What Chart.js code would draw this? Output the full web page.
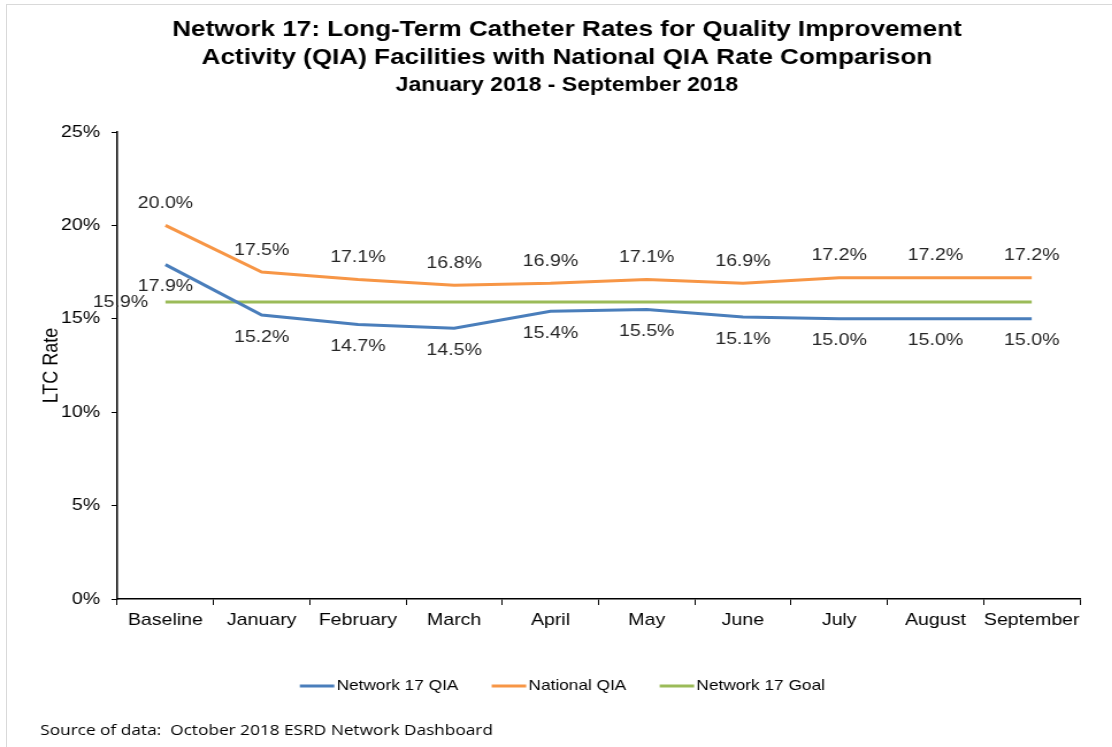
<!DOCTYPE html>
<html>
<head>
<meta charset="utf-8">
<script src="https://cdn.jsdelivr.net/npm/chart.js@4"></script>
<style>
    html, body { margin: 0; padding: 0; background: #fff; overflow: hidden; }
    #frame { position: absolute; left: 6px; top: 4px; width: 1120px; height: 760px; border: 1px solid #d9d9d9; box-sizing: border-box; }
    /* the reference text is wider than it is tall, so the canvas is stretched sideways */
    #wrap { position: absolute; left: 0; top: 0; width: 967px; height: 747px; transform: scaleX(1.15); transform-origin: 0 0; }
    canvas { position: absolute; left: 0; top: 0; }
</style>
</head>
<body>
<div id="frame"></div>
<div id="wrap">
    <canvas id="lineChart" width="967" height="747"></canvas>
</div>
<script>
const months = ["Baseline", "January", "February", "March", "April", "May", "June", "July", "August", "September"];
const network17Qia = [17.9, 15.2, 14.7, 14.5, 15.4, 15.5, 15.1, 15.0, 15.0, 15.0];
const nationalQia = [20.0, 17.5, 17.1, 16.8, 16.9, 17.1, 16.9, 17.2, 17.2, 17.2];
const network17Goal = [15.9, 15.9, 15.9, 15.9, 15.9, 15.9, 15.9, 15.9, 15.9, 15.9];
const yTicks = [0, 5, 10, 15, 20, 25];
const titleLines = [
    "Network 17: Long-Term Catheter Rates for Quality Improvement",
    "Activity (QIA) Facilities with National QIA Rate Comparison",
];
const subTitle = "January 2018 - September 2018";

const FONT = "'Liberation Sans', Arial, sans-serif";

// titles drawn by hand so they can sit centred on the page, not on the plot
const titlePlugin = {
    id: "pageTitle",
    afterDraw(chart) {
        const ctx = chart.ctx;
        ctx.save();
        ctx.fillStyle = "#000";
        ctx.textAlign = "center";
        ctx.textBaseline = "middle";
        ctx.font = "bold 22.7px " + FONT;
        ctx.fillText(titleLines[0], 493, 30);
        ctx.fillText(titleLines[1], 493, 58);
        ctx.font = "bold 20px " + FONT;
        ctx.fillText(subTitle, 493, 85);
        ctx.restore();
    },
};

// data labels: blue below, orange above, goal only at the first point (to the left)
const labelPlugin = {
    id: "pointLabels",
    afterDatasetsDraw(chart) {
        const ctx = chart.ctx;
        ctx.save();
        ctx.font = "17px " + FONT;
        ctx.fillStyle = "#262626";
        ctx.textBaseline = "middle";
        chart.data.datasets.forEach((ds, i) => {
            const meta = chart.getDatasetMeta(i);
            meta.data.forEach((pt, j) => {
                const txt = ds.data[j].toFixed(1) + "%";
                if (i === 0) {
                    ctx.textAlign = "center";
                    ctx.fillText(txt, pt.x, pt.y + 22);
                } else if (i === 1) {
                    ctx.textAlign = "center";
                    ctx.fillText(txt, pt.x, pt.y - 22);
                } else if (j === 0) {
                    ctx.textAlign = "right";
                    ctx.fillText(txt, pt.x - 15, pt.y);
                }
            });
        });
        ctx.restore();
    },
};

// legend like the office one: short line, text right against it
const legendPlugin = {
    id: "lineLegend",
    afterDraw(chart) {
        const ctx = chart.ctx;
        const lineW = 30, gap = 2, itemGap = 29, y = 686;
        ctx.save();
        ctx.font = "15px " + FONT;
        ctx.textBaseline = "middle";
        ctx.textAlign = "left";
        const items = chart.data.datasets.map(ds => ({
            text: ds.label,
            color: ds.borderColor,
            w: lineW + gap + ctx.measureText(ds.label).width,
        }));
        const total = items.reduce((s, it) => s + it.w, 0) + itemGap * (items.length - 1);
        let x = 489 - total / 2;
        items.forEach(it => {
            ctx.fillStyle = it.color;
            ctx.fillRect(x, y - 1.5, lineW, 3);
            ctx.fillStyle = "#000";
            ctx.fillText(it.text, x + lineW + gap, y);
            x += it.w + itemGap;
        });
        ctx.restore();
    },
};

const footnotePlugin = {
    id: "footnote",
    afterDraw(chart) {
        const ctx = chart.ctx;
        ctx.save();
        ctx.font = "15px 'Open Sans', 'Noto Sans', sans-serif";
        ctx.fillStyle = "#000";
        ctx.textAlign = "left";
        ctx.textBaseline = "middle";
        ctx.fillText("Source of data:  October 2018 ESRD Network Dashboard", 35, 731);
        ctx.restore();
    },
};

function makeSet(label, data, color) {
    return {
        label: label,
        data: data,
        borderColor: color,
        backgroundColor: color,
        borderWidth: 3,
        pointRadius: 0,
        tension: 0,
    };
}

new Chart(document.getElementById("lineChart"), {
    type: "line",
    data: {
        labels: months,
        datasets: [
            makeSet("Network 17 QIA", network17Qia, "#4a7ebb"),
            makeSet("National QIA", nationalQia, "#f79646"),
            makeSet("Network 17 Goal", network17Goal, "#9bbb59"),
        ],
    },
    options: {
        responsive: false,
        animation: false,
        layout: { padding: { left: 34, right: 28, top: 132, bottom: 108 } },
        scales: {
            x: {
                offset: true,
                afterFit(scale) {
                    scale.height = 40;
                },
                grid: { display: true, drawOnChartArea: false, offset: true, color: "#000", tickLength: 6, tickColor: "#000" },
                border: { display: true, color: "#000", width: 1.5 },
                ticks: { color: "#000", font: { family: FONT, size: 17 }, padding: 5, maxRotation: 0, autoSkip: false },
            },
            y: {
                min: 0,
                max: 25,
                afterBuildTicks(scale) {
                    scale.ticks = yTicks.map(v => ({ value: v }));
                },
                afterFit(scale) {
                    scale.width = 68;
                },
                grid: { display: true, drawOnChartArea: false, color: "#000", tickLength: 5, tickColor: "#000" },
                border: { display: true, color: "#000", width: 1.5 },
                ticks: {
                    color: "#000",
                    font: { family: FONT, size: 17 },
                    padding: 10,
                    callback: v => v + "%",
                },
                title: { display: true, text: "LTC Rate", color: "#000", font: { family: FONT, size: 18 }, padding: { top: 0, bottom: 6 } },
            },
        },
        plugins: {
            legend: { display: false },
            tooltip: { enabled: false },
        },
    },
    plugins: [titlePlugin, labelPlugin, legendPlugin, footnotePlugin],
});
</script>
</body>
</html>
